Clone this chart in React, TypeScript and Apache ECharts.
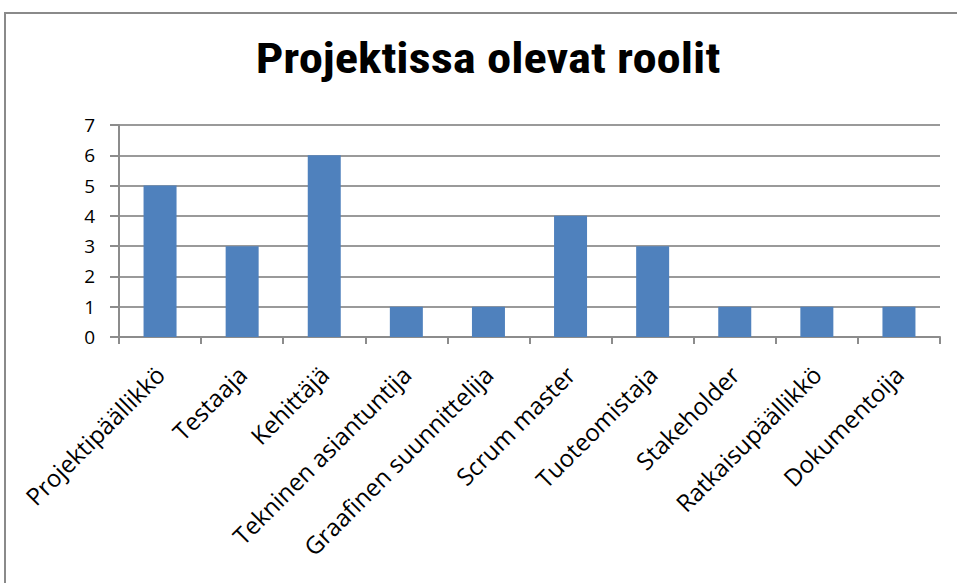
import React, { useEffect, useRef } from "react";
import * as echarts from "echarts";

const titleText = "Projektissa olevat roolit";
const categories = [
  "Projektipäällikkö",
  "Testaaja",
  "Kehittäjä",
  "Tekninen asiantuntija",
  "Graafinen suunnittelija",
  "Scrum master",
  "Tuoteomistaja",
  "Stakeholder",
  "Ratkaisupäällikkö",
  "Dokumentoija",
];
const values = [5, 3, 6, 1, 1, 4, 3, 1, 1, 1];
const yMin = 0;
const yMax = 7;
const yInterval = 1;

export default function App() {
  const ref = useRef<HTMLDivElement>(null);
  useEffect(() => {
    if (!ref.current) return;
    const chart = echarts.init(ref.current, undefined, { renderer: "svg" });
    const labelFont = "'Open Sans', 'Noto Sans', sans-serif";
    chart.setOption({
      animation: false,
      backgroundColor: "#ffffff",
      graphic: [
        {
          type: "rect",
          shape: { x: 5, y: 13, width: 1000, height: 700 },
          style: { fill: "none", stroke: "#8a8a8a", lineWidth: 2 },
          silent: true,
        },
        {
          type: "text",
          x: 488,
          y: 38,
          scaleX: 1.16,
          style: {
            text: titleText,
            align: "center",
            verticalAlign: "top",
            fontFamily: "'Roboto Condensed', 'Liberation Sans', sans-serif",
            fontWeight: "bold",
            fontSize: 42,
            fill: "#000000",
          },
          silent: true,
        },
      ],
      grid: { left: 119, right: 17, top: 125, bottom: 246, containLabel: false },
      xAxis: {
        type: "category",
        data: categories,
        axisLine: { show: true, lineStyle: { color: "#8c8c8c", width: 2 } },
        axisTick: { show: true, length: 7, alignWithLabel: false, lineStyle: { color: "#8c8c8c", width: 2 } },
        axisLabel: {
          interval: 0,
          rotate: 45,
          margin: 33,
          fontFamily: labelFont,
          fontSize: 24,
          color: "#000000",
        },
      },
      yAxis: {
        type: "value",
        min: yMin,
        max: yMax,
        interval: yInterval,
        axisLine: { show: true, lineStyle: { color: "#8c8c8c", width: 2 } },
        axisTick: { show: true, length: 9, lineStyle: { color: "#8c8c8c", width: 2 } },
        splitLine: { show: true, lineStyle: { color: "#9a9a9a", width: 2 } },
        axisLabel: {
          margin: 24,
          fontFamily: labelFont,
          fontSize: 19,
          color: "#000000",
        },
      },
      series: [
        {
          type: "bar",
          data: values,
          barWidth: 33,
          itemStyle: { color: "#4f81bd" },
        },
      ],
    });
    return () => chart.dispose();
  }, []);
  return (
    <div
      ref={ref}
      style={{ position: "fixed", left: 0, top: 0, width: 957, height: 583 }}
    />
  );
}
